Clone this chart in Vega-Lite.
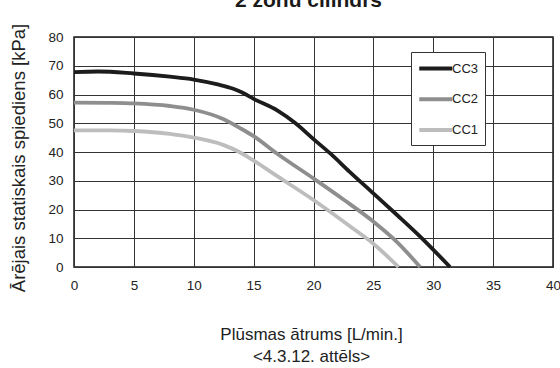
{
  "$schema": "https://vega.github.io/schema/vega-lite/v6.json",
  "autosize": {"type": "none"},
  "width": 479,
  "height": 230,
  "padding": {"left": 74, "top": 37, "right": 7, "bottom": 101},
  "background": "white",
  "config": {
    "font": "Liberation Sans",
    "view": {"stroke": "#1a1a1a", "strokeWidth": 1.5},
    "axis": {"gridColor": "#333333", "gridWidth": 1, "gridOpacity": 1, "domain": false, "ticks": false, "labelColor": "#222222", "labelFontSize": 13.5, "titleColor": "#222222", "titleFontWeight": "normal"}
  },
  "title": {"text": "2 zonu cilindrs", "fontSize": 21, "fontWeight": "bold", "color": "#1a1a1a", "anchor": "middle", "baseline": "alphabetic", "offset": -5, "dx": -5},
  "data": {"values": [
    {"x": 0, "p": 67.8, "s": "CC3"}, {"x": 2, "p": 68.0, "s": "CC3"}, {"x": 5, "p": 67.3, "s": "CC3"}, {"x": 8, "p": 66.2, "s": "CC3"}, {"x": 10, "p": 65.2, "s": "CC3"}, {"x": 12, "p": 63.5, "s": "CC3"}, {"x": 13.3, "p": 62.0, "s": "CC3"}, {"x": 14, "p": 60.8, "s": "CC3"}, {"x": 15, "p": 58.5, "s": "CC3"}, {"x": 17, "p": 54.4, "s": "CC3"}, {"x": 18.5, "p": 50.0, "s": "CC3"}, {"x": 20, "p": 44.5, "s": "CC3"}, {"x": 21.4, "p": 39.5, "s": "CC3"}, {"x": 23, "p": 33.2, "s": "CC3"}, {"x": 25, "p": 25.6, "s": "CC3"}, {"x": 27, "p": 18.0, "s": "CC3"}, {"x": 29.1, "p": 9.8, "s": "CC3"}, {"x": 31.4, "p": 0, "s": "CC3"},
    {"x": 0, "p": 57.2, "s": "CC2"}, {"x": 3, "p": 57.1, "s": "CC2"}, {"x": 5, "p": 56.9, "s": "CC2"}, {"x": 8, "p": 56.0, "s": "CC2"}, {"x": 10, "p": 54.7, "s": "CC2"}, {"x": 12.5, "p": 51.4, "s": "CC2"}, {"x": 14, "p": 48.0, "s": "CC2"}, {"x": 15, "p": 45.5, "s": "CC2"}, {"x": 17, "p": 39.3, "s": "CC2"}, {"x": 20, "p": 30.8, "s": "CC2"}, {"x": 22.5, "p": 23.5, "s": "CC2"}, {"x": 25, "p": 15.8, "s": "CC2"}, {"x": 27, "p": 8.6, "s": "CC2"}, {"x": 28.9, "p": 0, "s": "CC2"},
    {"x": 0, "p": 47.5, "s": "CC1"}, {"x": 3, "p": 47.5, "s": "CC1"}, {"x": 5, "p": 47.3, "s": "CC1"}, {"x": 8, "p": 46.3, "s": "CC1"}, {"x": 10, "p": 45.0, "s": "CC1"}, {"x": 12.5, "p": 42.4, "s": "CC1"}, {"x": 13.8, "p": 40.0, "s": "CC1"}, {"x": 15, "p": 37.0, "s": "CC1"}, {"x": 17, "p": 31.5, "s": "CC1"}, {"x": 20, "p": 23.3, "s": "CC1"}, {"x": 23.1, "p": 14.0, "s": "CC1"}, {"x": 25, "p": 8.1, "s": "CC1"}, {"x": 27.1, "p": 0, "s": "CC1"}
  ]},
  "mark": {"type": "line", "interpolate": "monotone", "strokeWidth": 3.8, "strokeCap": "butt"},
  "encoding": {
    "x": {"field": "x", "type": "quantitative", "scale": {"domain": [0, 40], "nice": false},
      "axis": {"values": [0, 5, 10, 15, 20, 25, 30, 35, 40], "labelPadding": 11, "labelFlush": false,
        "title": ["Plūsmas ātrums [L/min.]", "<4.3.12. attēls>"], "titleFontSize": 17, "titleLineHeight": 22.7, "titleBaseline": "alphabetic", "titleY": 72, "titleX": 237}},
    "y": {"field": "p", "type": "quantitative", "scale": {"domain": [0, 80], "nice": false},
      "axis": {"values": [0, 10, 20, 30, 40, 50, 60, 70, 80], "labelPadding": 11, "labelFlush": false,
        "title": "Ārējais statiskais spiediens [kPa]", "titleFontSize": 18.5, "titleBaseline": "alphabetic", "titleAngle": -90, "titleX": -49.5, "titleY": 120.5, "titleAlign": "center"}},
    "color": {"field": "s", "type": "nominal",
      "scale": {"domain": ["CC3", "CC2", "CC1"], "range": ["#1c1c1c", "#8e8e8e", "#bdbdbd"]},
      "legend": {"title": null, "orient": "none", "legendX": 337, "legendY": 15, "direction": "vertical",
        "fillColor": "white", "strokeColor": "#333333", "padding": 6, "cornerRadius": 0,
        "symbolType": "M-1,0H3", "symbolSize": 272, "symbolStrokeWidth": 4, "symbolFillColor": "transparent",
        "labelFontSize": 13, "labelColor": "#222222", "labelOffset": 14, "rowPadding": 11.8}}
  }
}
